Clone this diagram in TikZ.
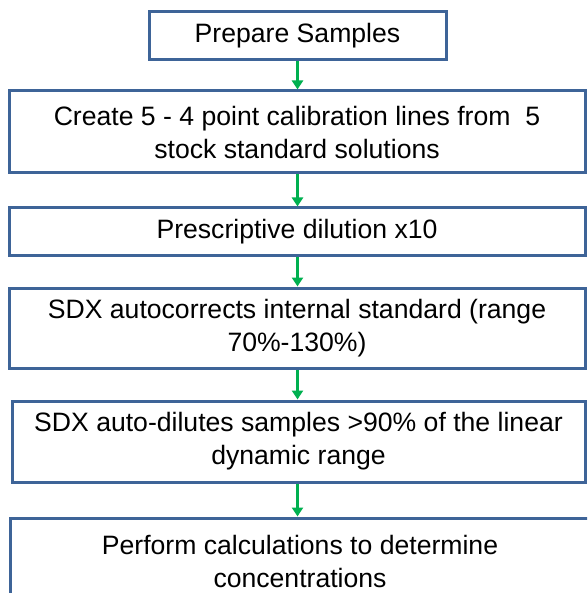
\documentclass[tikz,border=0pt]{standalone}
\usepackage{fontspec}
\setmainfont{Liberation Sans}
\usepackage{xcolor}
\usepackage{tikz}
\usetikzlibrary{arrows.meta}
\definecolor{boxblue}{RGB}{62,100,152}
\definecolor{flowgreen}{RGB}{0,176,80}
\tikzset{ step_box/.style = {rectangle, draw=boxblue, line width=3pt, fill=white, align=center, inner sep=0pt, font=\fontsize{26.6}{33}\selectfont} }
\tikzset{ flow/.style = {draw=flowgreen, line width=2.4pt, -{Triangle[length=9pt,width=11pt]}} }

\begin{document}
\begin{tikzpicture}[x=1pt,y=-1pt]
        \useasboundingbox (0,0) rectangle (587,593);
        \clip (0,0) rectangle (587,593);
        \node[step_box, minimum width=297, minimum height=48] (prep) at (297.5,36) {Prepare Samples};
        \node[step_box, minimum width=576, minimum height=82] (calib) at (297,132) {Create 5 - 4 point calibration lines from\ \ 5\\stock standard solutions};
        \node[step_box, minimum width=576, minimum height=47] (dilute) at (297,231.5) {Prescriptive dilution x10};
        \node[step_box, minimum width=576, minimum height=80] (autocorr) at (297,328) {SDX autocorrects internal standard (range\\70\%-130\%)};
        \node[step_box, minimum width=573, minimum height=81] (autodil) at (298.5,441.5) {SDX auto-dilutes samples >90\% of the linear\\dynamic range};
        \node[step_box, minimum width=580, minimum height=86] (calc) at (300,561) {Perform calculations to determine\\concentrations};
        \draw[flow] (prep.south) -- (prep.south |- calib.north);
        \draw[flow] (prep.south |- calib.south) -- (prep.south |- dilute.north);
        \draw[flow] (prep.south |- dilute.south) -- (prep.south |- autocorr.north);
        \draw[flow] (prep.south |- autocorr.south) -- (prep.south |- autodil.north);
        \draw[flow] (prep.south |- autodil.south) -- (prep.south |- calc.north);
    \end{tikzpicture}
\end{document}
